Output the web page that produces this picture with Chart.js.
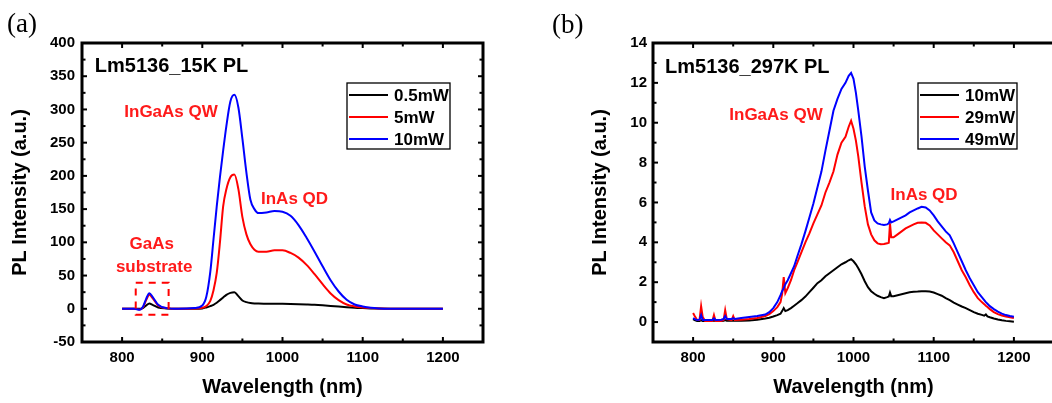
<!DOCTYPE html>
<html><head><meta charset="utf-8">
<script src="https://cdn.jsdelivr.net/npm/chart.js@4/dist/chart.umd.min.js"></script>
<style>
html,body{margin:0;padding:0;background:#fff;overflow:hidden;width:1052px;height:403px;position:relative}
#wa{position:absolute;left:0;top:0;width:525px;height:403px}
#wb{position:absolute;left:580px;top:0;width:480px;height:403px}
.lbl{position:absolute;font-family:"Liberation Serif","Times New Roman",serif;font-size:27px;color:#000;line-height:1}
</style></head><body>
<div id="wa"><canvas id="ca"></canvas></div>
<div id="wb"><canvas id="cb"></canvas></div>
<div class="lbl" style="left:7px;top:10px">(a)</div>
<div class="lbl" style="left:552px;top:11px">(b)</div>
<script>
// ---------- data ----------
const wl15 = [800, 815, 822, 826, 830, 834, 838, 845, 855, 870, 890, 900, 905, 910, 914, 918, 922, 926, 930, 935, 940, 945, 950, 955, 960, 965, 970, 980, 990, 1000, 1010, 1020, 1030, 1040, 1050, 1060, 1070, 1080, 1090, 1100, 1110, 1120, 1140, 1160, 1200];
const pl15_0p5mW = [0, 0, 0, 1, 5, 8, 6, 2, 0.5, 0, 0, 0.5, 2, 4, 6, 9, 13, 17, 21, 24, 25, 19, 12.5, 10, 8.6, 8, 7.8, 7.7, 7.6, 7.5, 7.3, 7, 6.6, 6.1, 5.3, 4.3, 3.3, 2.3, 1.5, 1, 0.6, 0.3, 0.1, 0, 0];
const pl15_5mW = [0, 0, -1, 2, 13, 21, 16, 5, 1, 0, 0.5, 1.5, 4, 12, 28, 54, 100, 154, 180, 198, 202, 180, 138, 112, 97, 89, 86, 86, 88, 88, 84, 77, 66, 52, 37, 23, 13, 6.5, 3.5, 2, 1, 0.4, 0.1, 0, 0];
const pl15_10mW = [0, 0, -1.5, 3, 15, 23.5, 18, 6, 1, 0, 1, 5, 18, 56, 105, 154, 198, 238, 275, 312, 322, 303, 256, 205, 164, 150, 144, 145, 147, 146, 140, 126, 107, 86, 64, 43, 26, 13.5, 6.5, 3.5, 1.5, 0.6, 0.1, 0, 0];

const wl297 = [800, 802, 805, 808, 810, 812, 815, 820, 824, 826,
  828, 835, 838, 840, 842, 848, 850, 852, 860, 870,
  880, 890, 895, 900, 905, 909, 911, 913, 915, 918,
  922, 926, 930, 935, 940, 945, 950, 955, 960, 965,
  970, 975, 980, 985, 990, 994, 997, 1000, 1003, 1006,
  1010, 1014, 1018, 1022, 1026, 1030, 1034, 1038, 1042, 1044,
  1045.5, 1047, 1050, 1055, 1060, 1065, 1070, 1075, 1080, 1085,
  1090, 1095, 1100, 1105, 1110, 1115, 1120, 1125, 1130, 1135,
  1140, 1145, 1150, 1155, 1160, 1163, 1165, 1167, 1170, 1175,
  1180, 1185, 1190, 1195, 1200];
const pl297_10mW = [0.15, 0.1, 0.05, 0.05, 0.1, 0.05, 0.05, 0.05, 0.05, 0.08,
  0.05, 0.05, 0.06, 0.1, 0.06, 0.06, 0.08, 0.06, 0.07, 0.08,
  0.12, 0.18, 0.22, 0.28, 0.35, 0.42, 0.55, 0.7, 0.55, 0.6,
  0.7, 0.82, 0.94, 1.1, 1.28, 1.5, 1.72, 1.95, 2.1, 2.3,
  2.45, 2.6, 2.75, 2.9, 3.0, 3.1, 3.15, 3.05, 2.9, 2.7,
  2.4, 2.05, 1.75, 1.55, 1.42, 1.32, 1.25, 1.2, 1.25, 1.28,
  1.48, 1.3, 1.3, 1.35, 1.4, 1.45, 1.5, 1.52, 1.53, 1.55,
  1.55, 1.53, 1.48, 1.4, 1.32, 1.2, 1.1, 0.98, 0.88, 0.78,
  0.7, 0.6, 0.5, 0.42, 0.36, 0.32, 0.38, 0.28, 0.24, 0.18,
  0.13, 0.09, 0.06, 0.04, 0.02];
const pl297_29mW = [0.45, 0.3, 0.1, 0.1, 0.8, 0.25, 0.05, 0.05, 0.05, 0.35,
  0.05, 0.05, 0.1, 0.6, 0.15, 0.1, 0.3, 0.1, 0.12, 0.15,
  0.2, 0.3, 0.4, 0.55, 0.75, 1.0, 1.4, 2.25, 1.45, 1.7,
  2.1, 2.6, 3.0, 3.5, 4.0, 4.45, 4.95, 5.4, 5.85, 6.5,
  7.0, 7.55, 8.4, 9.0, 9.3, 9.8, 10.1, 9.7, 9.1, 8.3,
  7.0, 5.8, 4.9, 4.4, 4.1, 3.95, 3.9, 3.92, 3.95, 3.98,
  4.95, 4.25, 4.25, 4.4, 4.55, 4.7, 4.8, 4.9, 4.98, 5.0,
  4.98, 4.85, 4.6, 4.4, 4.2, 4.0, 3.85, 3.5, 3.05, 2.6,
  2.25, 1.85, 1.5, 1.2, 1.0, 0.9, 0.82, 0.76, 0.65, 0.5,
  0.4, 0.33, 0.28, 0.24, 0.2];
const pl297_49mW = [0.2, 0.15, 0.1, 0.12, 0.35, 0.1, 0.1, 0.1, 0.1, 0.18,
  0.1, 0.12, 0.15, 0.3, 0.15, 0.15, 0.2, 0.15, 0.2, 0.25,
  0.3, 0.38, 0.5, 0.7, 1.0, 1.35, 1.55, 1.7, 1.9, 2.1,
  2.45, 2.8, 3.3, 3.9, 4.55, 5.25, 5.95, 6.75, 7.55, 8.6,
  9.6, 10.6, 11.2, 11.7, 12.0, 12.35, 12.5, 12.2, 11.5, 10.6,
  9.3, 7.8, 6.6, 5.5, 5.1, 4.95, 4.9, 4.87, 4.9, 4.95,
  5.12, 5.0, 5.05, 5.15, 5.25, 5.35, 5.5, 5.6, 5.7, 5.78,
  5.75, 5.6, 5.35, 5.05, 4.8, 4.55, 4.35, 3.95, 3.5, 3.05,
  2.6, 2.2, 1.85, 1.5, 1.25, 1.1, 1.0, 0.92, 0.8, 0.65,
  0.52, 0.42, 0.35, 0.3, 0.27];

const labels15 = ['0.5mW', '5mW', '10mW'];
const labels297 = ['10mW', '29mW', '49mW'];
const xTickVals = [800, 900, 1000, 1100, 1200];
const xMinorVals = [850, 950, 1050, 1150];
const yTickVals15 = [-50, 0, 50, 100, 150, 200, 250, 300, 350, 400];
const yMinorVals15 = [-25, 25, 75, 125, 175, 225, 275, 325, 375];
const yTickVals297 = [0, 2, 4, 6, 8, 10, 12, 14];
const yMinorVals297 = [1, 3, 5, 7, 9, 11, 13];
const COLORS = ['#000000', '#ff0000', '#0000ff'];
const FONT = '"Liberation Sans", Arial, Helvetica, sans-serif';

// ---------- drawing ----------
function makeDeco(cfg) {
  return {
    id: 'deco',
    afterDatasetsDraw(chart) {
      const ctx = chart.ctx, a = chart.chartArea, x = chart.scales.x, y = chart.scales.y;
      ctx.save();
      ctx.strokeStyle = '#000'; ctx.lineWidth = 2;
      const seg = (x1, y1, x2, y2) => { ctx.beginPath(); ctx.moveTo(x1, y1); ctx.lineTo(x2, y2); ctx.stroke(); };
      // inward tick marks
      xTickVals.forEach(v => {
        const px = x.getPixelForValue(v);
        seg(px, a.bottom, px, a.bottom - 5);
        seg(px, a.top, px, a.top + 5);
      });
      xMinorVals.forEach(v => {
        const px = x.getPixelForValue(v);
        seg(px, a.bottom, px, a.bottom - 3.5);
        seg(px, a.top, px, a.top + 3.5);
      });
      cfg.yTicks.forEach(v => {
        const py = y.getPixelForValue(v);
        seg(a.left, py, a.left + 5, py);
        if (cfg.rightTicks) seg(a.right, py, a.right - 5, py);
      });
      cfg.yMinor.forEach(v => {
        const py = y.getPixelForValue(v);
        seg(a.left, py, a.left + 3.5, py);
        if (cfg.rightTicks) seg(a.right, py, a.right - 3.5, py);
      });
      // frame
      ctx.lineWidth = 3;
      ctx.strokeRect(a.left, a.top, a.right - a.left, a.bottom - a.top);
      // dashed box
      if (cfg.rect) {
        const r = cfg.rect;
        const x1 = x.getPixelForValue(r.x1), x2 = x.getPixelForValue(r.x2);
        const y1 = y.getPixelForValue(r.y1), y2 = y.getPixelForValue(r.y2);
        ctx.lineWidth = 2; ctx.strokeStyle = '#ff0000'; ctx.setLineDash([7, 6]);
        ctx.strokeRect(Math.min(x1, x2), Math.min(y1, y2), Math.abs(x2 - x1), Math.abs(y2 - y1));
        ctx.setLineDash([]);
      }
      // texts
      ctx.textBaseline = 'middle';
      cfg.notes.forEach(n => {
        ctx.font = 'bold ' + n.size + 'px ' + FONT;
        ctx.fillStyle = n.color;
        ctx.textAlign = n.align || 'center';
        ctx.fillText(n.text, x.getPixelForValue(n.x), y.getPixelForValue(n.y));
      });
      // legend
      const L = cfg.legend;
      ctx.fillStyle = '#fff';
      ctx.fillRect(L.x, L.y, L.w, L.h);
      ctx.lineWidth = 1.3; ctx.strokeStyle = '#000';
      ctx.strokeRect(L.x, L.y, L.w, L.h);
      ctx.font = 'bold 17px ' + FONT; ctx.textAlign = 'left';
      chart.data.datasets.forEach((ds, i) => {
        const ly = L.y + 12 + 22 * i;
        ctx.strokeStyle = ds.borderColor; ctx.lineWidth = 2;
        seg(L.x + 2, ly, L.x + 41, ly);
        ctx.fillStyle = '#000';
        ctx.fillText(ds.label, L.x + 47, ly + 1);
      });
      ctx.restore();
    }
  };
}

function build(id, cfg) {
  const tickFont = { family: FONT, size: 15, weight: 'bold' };
  const titleFont = { family: FONT, size: 20, weight: 'bold' };
  return new Chart(document.getElementById(id), {
    type: 'line',
    data: {
      datasets: cfg.series.map((s, i) => ({
        label: cfg.labels[i],
        data: cfg.xs.map((xv, j) => ({ x: xv, y: s[j] })),
        borderColor: COLORS[i], backgroundColor: COLORS[i],
        borderWidth: 2, pointRadius: 0, fill: false,
        tension: cfg.smooth ? 0.4 : 0,
        cubicInterpolationMode: cfg.smooth ? 'monotone' : 'default',
        order: 2 - i
      }))
    },
    options: {
      responsive: true, maintainAspectRatio: false, animation: false,
      layout: { padding: cfg.pad },
      plugins: { legend: { display: false }, tooltip: { enabled: false } },
      scales: {
        x: {
          type: 'linear', min: 750, max: 1250,
          afterBuildTicks: sc => { sc.ticks = xTickVals.map(v => ({ value: v })); },
          afterFit: sc => { sc.height = cfg.xH; },
          grid: { display: false, drawTicks: false }, border: { display: false },
          ticks: { font: tickFont, color: '#000', padding: 7, maxRotation: 0, autoSkip: false, callback: v => String(v) },
          title: { display: true, text: 'Wavelength (nm)', font: titleFont, color: '#000', padding: { top: 0, bottom: 4 } }
        },
        y: {
          type: 'linear', min: cfg.yMin, max: cfg.yMax,
          afterBuildTicks: sc => { sc.ticks = cfg.yTicks.map(v => ({ value: v })); },
          afterFit: sc => { sc.width = cfg.yW; },
          grid: { display: false, drawTicks: false }, border: { display: false },
          ticks: { font: tickFont, color: '#000', padding: cfg.yPad, autoSkip: false, callback: v => String(v) },
          title: { display: true, text: 'PL Intensity (a.u.)', font: titleFont, color: '#000', padding: { top: 8, bottom: 0 } }
        }
      }
    },
    plugins: [makeDeco(cfg)]
  });
}

build('ca', {
  xs: wl15, series: [pl15_0p5mW, pl15_5mW, pl15_10mW], labels: labels15,
  smooth: true, yMin: -50, yMax: 400, yTicks: yTickVals15, yMinor: yMinorVals15, rightTicks: true,
  pad: { left: 0, right: 42, top: 43, bottom: 0 }, yW: 82, xH: 61, yPad: 7,
  rect: { x1: 817, x2: 858, y1: -9, y2: 39 },
  notes: [
    { text: 'Lm5136_15K PL', x: 766, y: 364, size: 20, color: '#000', align: 'left' },
    { text: 'InGaAs QW', x: 861, y: 295, size: 17, color: '#ff1a1a' },
    { text: 'InAs QD', x: 1015, y: 165, size: 17, color: '#ff1a1a' },
    { text: 'GaAs', x: 837, y: 97.5, size: 17, color: '#ff1a1a' },
    { text: 'substrate', x: 840, y: 63, size: 17, color: '#ff1a1a' }
  ],
  legend: { x: 347, y: 83, w: 103, h: 66 }
});

build('cb', {
  xs: wl297, series: [pl297_10mW, pl297_29mW, pl297_49mW], labels: labels297,
  smooth: false, yMin: -1, yMax: 14, yTicks: yTickVals297, yMinor: yMinorVals297, rightTicks: false,
  pad: { left: 0, right: 6, top: 43, bottom: 0 }, yW: 73, xH: 61, yPad: 6,
  rect: null,
  notes: [
    { text: 'Lm5136_297K PL', x: 765, y: 12.75, size: 20, color: '#000', align: 'left' },
    { text: 'InGaAs QW', x: 903.4, y: 10.39, size: 17, color: '#ff1a1a' },
    { text: 'InAs QD', x: 1088, y: 6.37, size: 17, color: '#ff1a1a' }
  ],
  legend: { x: 338, y: 83, w: 99, h: 66 }
});
</script>
</body></html>
